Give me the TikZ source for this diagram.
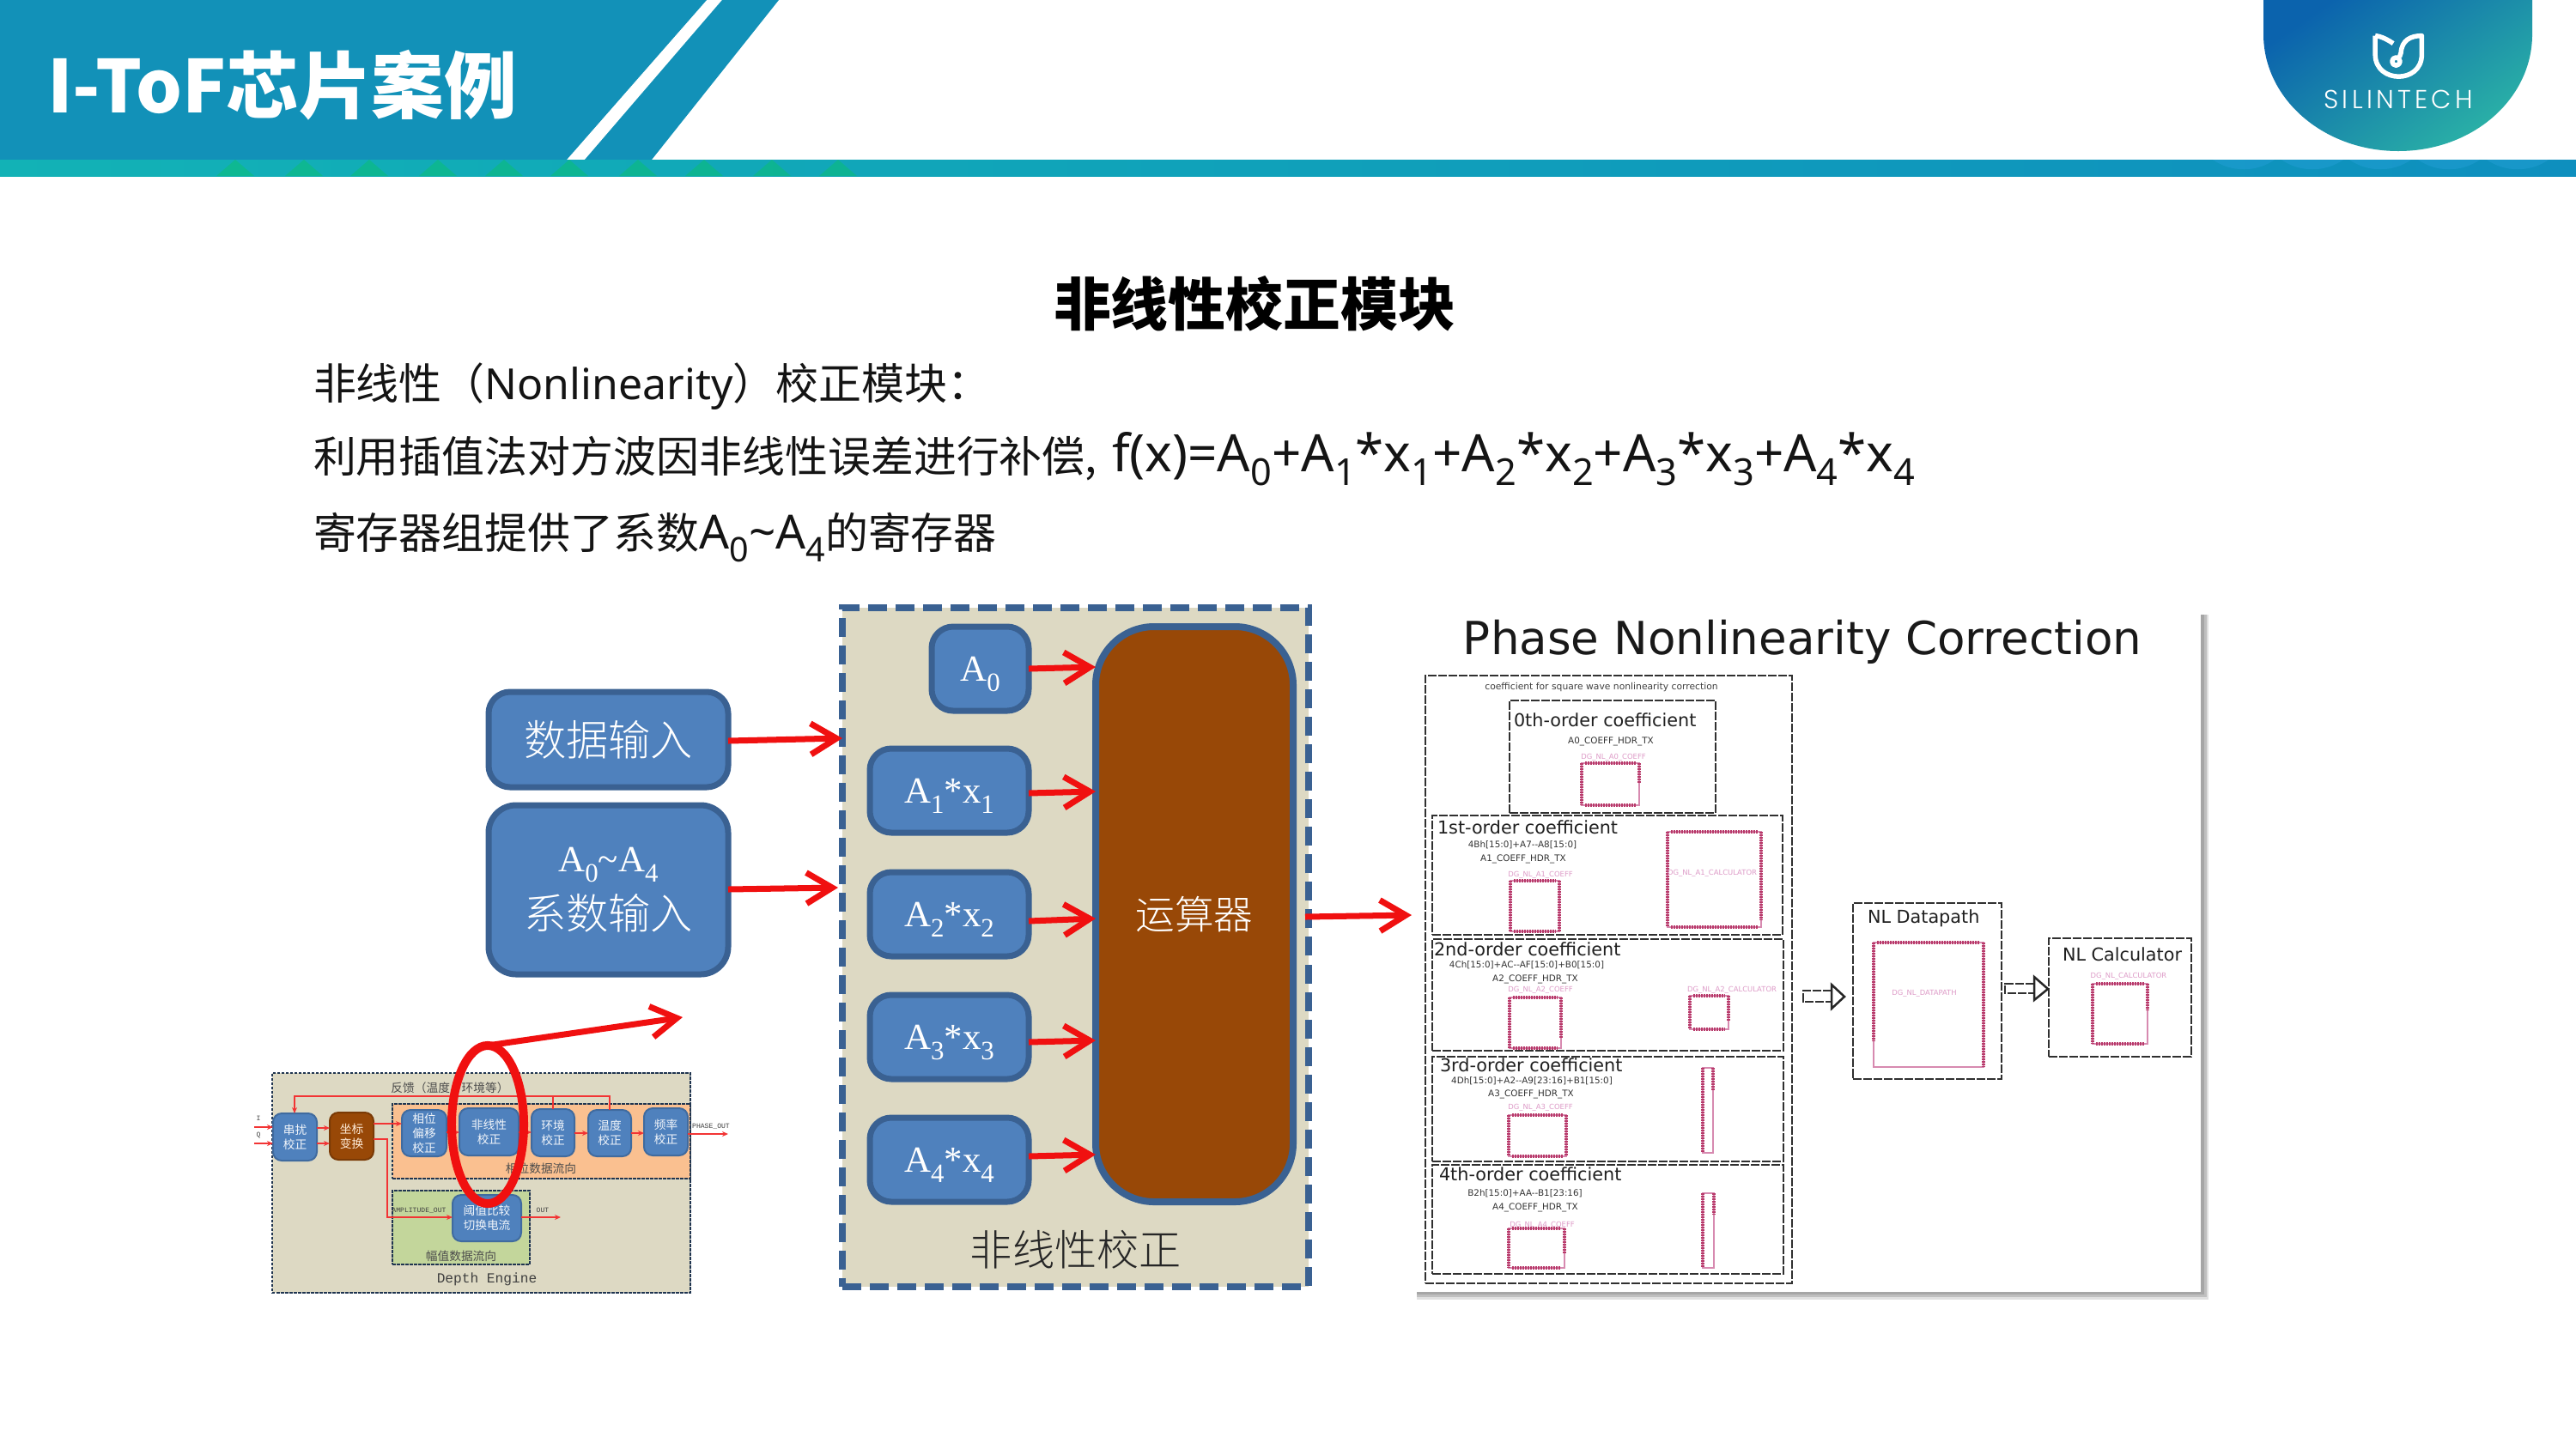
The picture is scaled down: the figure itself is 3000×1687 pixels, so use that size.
\documentclass[tikz,border=0pt]{standalone}
\usepackage{fontspec}
\usetikzlibrary{arrows.meta,shapes.geometric}
\setmainfont{Liberation Serif}
\newfontfamily\cjk{Noto Sans CJK SC}
\newfontfamily\cjklt[UprightFont=* Light]{Noto Sans CJK SC}
\newfontfamily\cjkblk[UprightFont=* Black]{Noto Sans CJK SC}
\newfontfamily\nts{Noto Sans}
\newfontfamily\dvs{DejaVu Sans}
\newfontfamily\lmono{Liberation Mono}
\newfontfamily\logof[UprightFont=* Light,LetterSpace=14]{Poppins}
\newcommand\fs[1]{\fontsize{#1}{#1}\selectfont}
\newcommand\ssb[1]{\raisebox{-.28em}[0pt][0pt]{\scalebox{.72}{#1}}}
\definecolor{hdrblue}{HTML}{1291B8}
\definecolor{bandl}{HTML}{12B2B6}
\definecolor{bandr}{HTML}{0E8FBE}
\definecolor{logoa}{HTML}{0B63AD}
\definecolor{logob}{HTML}{0E9CB8}
\definecolor{logoc}{HTML}{2BB3A6}
\definecolor{boxblue}{HTML}{4F81BD}
\definecolor{boxline}{HTML}{3A6192}
\definecolor{panelbg}{HTML}{DDD9C3}
\definecolor{brownfill}{HTML}{984807}
\definecolor{orfill}{HTML}{FAC090}
\definecolor{grfill}{HTML}{C3D69B}
\definecolor{arrred}{HTML}{F01010}
\definecolor{pinred}{HTML}{B83A6A}
\definecolor{chipl}{HTML}{D78AB0}
\definecolor{lblpink}{HTML}{DE9CC8}
\definecolor{dashk}{HTML}{303030}
\tikzset{
  x=0.01cm,y=-0.01cm,
  every node/.style={inner sep=0pt,outer sep=0pt},
  bigblue/.style={draw=boxline,fill=boxblue,line width=.07cm,rounded corners=.25cm,text=white},
  opbox/.style={draw=boxline,fill=brownfill,line width=.08cm,rounded corners=.68cm,text=white},
  mainpanel/.style={draw=boxline,fill=panelbg,line width=.08cm,dash pattern=on .22cm off .10cm},
  bigarrow/.style={draw=arrred,line width=.07cm,-{Straight Barb[length=.30cm,width=.36cm,line width=.07cm]}},
  thinarrow/.style={draw=arrred!85!white,line width=.018cm,-{Stealth[length=.07cm,width=.06cm]}},
  thinline/.style={draw=arrred!85!white,line width=.018cm},
  smallblue/.style={draw=boxline!70!boxblue,fill=boxblue,line width=.02cm,rounded corners=.1cm,text=white!92!boxblue,align=center,font=\cjk\fontsize{3.9}{4.8}\selectfont},
  smallbrown/.style={draw=brownfill!80!black,fill=brownfill,line width=.02cm,rounded corners=.1cm,text=white!85!orange,align=center,font=\cjk\fontsize{3.9}{4.8}\selectfont},
  thumbdash/.style={draw=black!45!boxline,line width=.016cm,dash pattern=on .035cm off .015cm},
  dbox/.style={draw=dashk,line width=.028cm,dash pattern=on .10cm off .02cm},
  chipline/.style={draw=chipl,line width=.012cm},
  pins/.style={draw=pinred,line width=.045cm,dash pattern=on .022cm off .008cm},
  cfont/.style={font=\dvs\fs{5.9},text=black!88},
  hdrlab/.style={font=\dvs\fs{2.95},text=black!80},
  pink/.style={font=\dvs\fs{2.4},text=lblpink},
  btext/.style={anchor=base west,font=\cjk\fs{14.2},text=black!92},
  thumbtext/.style={font=\cjk\fs{3.9},text=black!70},
  openhead/.style={draw=black!85,line width=.025cm,fill=white,line join=miter},
}
\newcommand\nbox[7]{%
  \pgfmathsetmacro\nbW{(#4-#2)*0.01}%
  \pgfmathsetmacro\nbH{(#5-#3)*0.01}%
  \node[#1,minimum width=\nbW cm,minimum height=\nbH cm] (#6) at ({(#2+#4)/2},{(#3+#5)/2}) {#7};}
\newcommand\pinchip[5]{%
  \draw[chipline] (#1,#2) rectangle (#3,#4);
  \draw[pins] (#1,#2) -- (#1,#4);
  \draw[pins] (#1+4,#2) -- (#3-4,#2);
  \draw[pins] (#1+4,#4) -- (#3-4,#4);
  \draw[pins] (#3,#2) -- (#3,#5);}
\newcommand\tallchip[5]{%
  \draw[chipline] (#1,#2) rectangle (#3,#4);
  \draw[pins] (#1,#2) -- (#1,#4);
  \draw[pins] (#3,#2) -- (#3,#5);}
\begin{document}
\begin{tikzpicture}
\useasboundingbox (0,0) rectangle (3000,1687);
\fill[white] (0,0) rectangle (3000,1687);
% header
\fill[hdrblue] (0,0) -- (823,0) -- (660,186) -- (0,186) -- cycle;
\fill[hdrblue] (841,0) -- (907,0) -- (759,186) -- (681,186) -- cycle;
\shade[left color=bandl,right color=bandr] (0,186) rectangle (3000,205);
\foreach \tx in {274,354,430,510,587,663,743,820,899,976}
  \fill[green!45!hdrblue,opacity=.45] (\tx-22,205) -- (\tx,186) -- (\tx+22,205) -- cycle;
\foreach \tx in {2613,2693,2772,2852,2932}
  \fill[cyan!60!hdrblue,opacity=.5] (\tx-36,186) .. controls (\tx-15,201) and (\tx+15,201) .. (\tx+36,186) -- cycle;
\node[anchor=base west,font=\cjkblk\fs{24.1},text=white] (title) at (55,131) {I-ToF芯片案例};
% logo
\shade[top color=logoa,middle color=logob,bottom color=logoc,shading angle=35]
  (2636,0) -- (2636,40) .. controls (2636,115) and (2706,176) .. (2793,176) .. controls (2880,176) and (2949,115) .. (2949,40) -- (2949,0) -- cycle;
\begin{scope}[xshift=25.5cm,x=0.003333cm,y=-0.003333cm,draw=white,line width=.055cm,line join=round]
  \draw (645,125) -- (645,190) .. controls (645,245) and (690,268) .. (727,268) .. controls (765,268) and (808,245) .. (808,190) -- (808,125) .. controls (770,125) and (738,140) .. (735,185) -- (730,200);
  \draw (645,125) .. controls (670,128) and (690,140) .. (708,152);
  \draw (718,215) circle[radius=14];
\end{scope}
\node[font=\logof\fs{8.6},text=white] (logotext) at (2793,116) {SILINTECH};
% heading and body
\node[font=\cjk\bfseries\fs{19},text=black] (heading) at (1461,354) {非线性校正模块};
\node[btext] (line1) at (365,465) {非线性（{\nts Nonlinearity}）校正模块：};
\node[btext] (line2) at (365,550) {利用插值法对方波因非线性误差进行补偿,};
\node[anchor=base west,font=\nts\fs{17.1},text=black!92] (formula) at (1295,549) {f(x)=A\ssb{0}+A\ssb{1}*x\ssb{1}+A\ssb{2}*x\ssb{2}+A\ssb{3}*x\ssb{3}+A\ssb{4}*x\ssb{4}};
\node[btext] (line3) at (365,639) {寄存器组提供了系数{\nts\fs{15.6}A\ssb{0}\textasciitilde A\ssb{4}}的寄存器};
% input boxes
\nbox{bigblue}{569}{806}{848}{917}{datain}{\cjklt\fs{14}数据输入}
\nbox{bigblue,rounded corners=.32cm,align=center}{569}{938}{848}{1135}{coefin}{\fs{12.2}A\ssb{0}\textasciitilde A\ssb{4}\\[7pt]\cjklt\fs{14}系数输入}
% main panel
\nbox{mainpanel}{981}{708}{1524}{1499}{panel}{}
\node[font=\cjklt\fs{14},text=black!85] (paneltxt) at (1253,1456) {非线性校正};
\nbox{bigblue}{1085}{730}{1198}{828}{a0}{\fs{12.2}A\ssb{0}}
\nbox{bigblue}{1013}{872}{1198}{970}{a1}{\fs{12.2}A\ssb{1}*x\ssb{1}}
\nbox{bigblue}{1013}{1016}{1198}{1114}{a2}{\fs{12.2}A\ssb{2}*x\ssb{2}}
\nbox{bigblue}{1013}{1159}{1198}{1257}{a3}{\fs{12.2}A\ssb{3}*x\ssb{3}}
\nbox{bigblue}{1013}{1302}{1198}{1400}{a4}{\fs{12.2}A\ssb{4}*x\ssb{4}}
\nbox{opbox}{1276}{730}{1506}{1400}{op}{\cjklt\fs{13}运算器}
\coordinate (dtip) at (981,860);
\coordinate (ctip) at (976,1034);
\coordinate (optip) at (1644,1066);
\draw[bigarrow] (datain.east |- 0,863) -- (dtip);
\draw[bigarrow] (coefin.east |- 0,1036) -- (ctip);
\draw[bigarrow] (a0.east |- 0,779) -- (op.west |- 0,777);
\draw[bigarrow] (a1.east |- 0,924) -- (op.west |- 0,922);
\draw[bigarrow] (a2.east |- 0,1073) -- (op.west |- 0,1070);
\draw[bigarrow] (a3.east |- 0,1214) -- (op.west |- 0,1212);
\draw[bigarrow] (a4.east |- 0,1347) -- (op.west |- 0,1345);
\coordinate (opout) at (1520,1068);
\draw[bigarrow] (opout) -- (optip);
% thumbnail
\nbox{thumbdash,fill=panelbg}{317}{1250}{804}{1506}{thumb}{}
\nbox{thumbdash,fill=orfill}{457}{1286}{804}{1373}{phasereg}{}
\nbox{thumbdash,fill=grfill}{457}{1387}{617}{1473}{ampreg}{}
\node[thumbtext] (fbk) at (524,1267) {反馈（温度、环境等）};
\node[thumbtext] (phflow) at (630,1361) {相位数据流向};
\node[thumbtext] (ampflow) at (537,1463) {幅值数据流向};
\node[font=\lmono\fs{4.6},text=black!75] (depth) at (567,1490) {Depth Engine};
\nbox{smallblue}{318}{1297}{369}{1352}{cross}{串扰\\校正}
\nbox{smallbrown}{384}{1296}{435}{1351}{coord}{坐标\\变换}
\nbox{smallblue}{468}{1293}{520}{1347}{phoff}{相位\\偏移\\校正}
\nbox{smallblue}{535}{1291}{604}{1346}{nonlin}{非线性\\校正}
\nbox{smallblue}{619}{1292}{669}{1347}{envc}{环境\\校正}
\nbox{smallblue}{685}{1293}{735}{1347}{tempc}{温度\\校正}
\nbox{smallblue}{750}{1291}{801}{1346}{freqc}{频率\\校正}
\nbox{smallblue}{527}{1392}{607}{1446}{thresh}{阈值比较\\切换电流}
\node[font=\lmono\fs{2.3},text=black!75] (iin) at (301,1303) {I};
\node[font=\lmono\fs{2.3},text=black!75] (qin) at (301,1323) {Q};
\coordinate (icoord) at (296,1313);
\coordinate (qcoord) at (296,1332);
\coordinate (phout) at (848,1321);
\coordinate (throut) at (653,1418);
\coordinate (fbcorner) at (343,1277);
\coordinate (ampcorner) at (451,1327);
\node[font=\lmono\fs{2.3},text=black!75] (phlabel) at (828,1312) {PHASE\_OUT};
\node[font=\lmono\fs{2.3},text=black!75] (amplabel) at (488,1410) {AMPLITUDE\_OUT};
\node[font=\lmono\fs{2.3},text=black!75] (outlabel) at (632,1410) {OUT};
\draw[thinarrow] (icoord) -- (cross.west |- icoord);
\draw[thinarrow] (qcoord) -- (cross.west |- qcoord);
\draw[thinarrow] (cross.east |- 0,1314) -- (coord.west |- 0,1314);
\draw[thinarrow] (cross.east |- 0,1332) -- (coord.west |- 0,1332);
\draw[thinarrow] (coord.east |- 0,1309) -- (phoff.west |- 0,1309);
\draw[thinarrow] (coord.east |- ampcorner) -- (ampcorner) -- (ampcorner |- throut) -- (thresh.west |- throut);
\draw[thinarrow] (phoff.east |- 0,1319) -- (nonlin.west |- 0,1319);
\draw[thinarrow] (nonlin.east |- 0,1319) -- (envc.west |- 0,1319);
\draw[thinarrow] (envc.east |- 0,1320) -- (tempc.west |- 0,1320);
\draw[thinarrow] (tempc.east |- 0,1320) -- (freqc.west |- 0,1320);
\draw[thinarrow] (freqc.east |- phout) -- (phout);
\draw[thinarrow] (thresh.east |- throut) -- (throut);
\draw[thinarrow] (tempc.north) -- (tempc.north |- fbcorner) -- (fbcorner) -- (cross.north -| fbcorner);
\draw[thinline] (envc.north) -- (envc.north |- fbcorner);
\node[draw=arrred,line width=.10cm,ellipse,minimum width=.84cm,minimum height=1.84cm] (ring) at (568,1310) {};
\coordinate (ringtip) at (795,1185);
\draw[bigarrow] (ring.north) -- (ringtip);
% right panel
\fill[black!12] (1650,1495) rectangle (2572,1514);
\fill[black!25] (1650,1495) rectangle (2570,1511);
\fill[black!35] (1650,1495) rectangle (2567,1508);
\fill[black!12] (2555,716) rectangle (2572,1514);
\fill[black!25] (2555,716) rectangle (2570,1511);
\fill[black!35] (2555,716) rectangle (2567,1508);
\nbox{fill=white}{1645}{713}{2563}{1505}{picture}{}
\node[anchor=base,font=\dvs\fs{15.1},text=black!90] (ptitle) at (2099,762) {Phase Nonlinearity Correction};
\nbox{dbox}{1660}{787}{2087}{1495}{outerbox}{}
\node[font=\dvs\fs{3.06},text=black!75] (cf) at (1865,801) {coefficient for square wave nonlinearity correction};
% 0th
\nbox{dbox}{1758}{816}{1998}{947}{box0}{}
\node[cfont,anchor=west] (t0) at (1763,839) {0th-order coefficient};
\node[hdrlab] (h0) at (1876,864) {A0\_COEFF\_HDR\_TX};
\node[pink] (p0) at (1879,882) {DG\_NL\_A0\_COEFF};
\pinchip{1842}{889}{1909}{938}{913}
% 1st
\nbox{dbox}{1668}{950}{2076}{1089}{box1}{}
\node[cfont,anchor=west] (t1) at (1674,964) {1st-order coefficient};
\node[hdrlab] (r1) at (1773,984) {4Bh[15:0]+A7--A8[15:0]};
\node[hdrlab] (h1) at (1774,1001) {A1\_COEFF\_HDR\_TX};
\node[pink] (p1) at (1794,1019) {DG\_NL\_A1\_COEFF};
\pinchip{1759}{1026}{1816}{1085}{1085}
\pinchip{1942}{969}{2051}{1080}{1072}
\node[pink] (p1c) at (1994,1017) {DG\_NL\_A1\_CALCULATOR};
% 2nd
\nbox{dbox}{1668}{1094}{2077}{1224}{box2}{}
\node[cfont,anchor=west] (t2) at (1670,1106) {2nd-order coefficient};
\node[hdrlab] (r2) at (1778,1124) {4Ch[15:0]+AC--AF[15:0]+B0[15:0]};
\node[hdrlab] (h2) at (1788,1141) {A2\_COEFF\_HDR\_TX};
\node[pink] (p2) at (1794,1153) {DG\_NL\_A2\_COEFF};
\pinchip{1758}{1162}{1818}{1221}{1210}
\node[pink] (p2c) at (2017,1153) {DG\_NL\_A2\_CALCULATOR};
\pinchip{1968}{1160}{2013}{1199}{1190}
% 3rd
\nbox{dbox}{1668}{1231}{2077}{1353}{box3}{}
\node[cfont,anchor=west] (t3) at (1677,1241) {3rd-order coefficient};
\node[hdrlab] (r3) at (1784,1259) {4Dh[15:0]+A2--A9[23:16]+B1[15:0]};
\node[hdrlab] (h3) at (1783,1275) {A3\_COEFF\_HDR\_TX};
\node[pink] (p3) at (1794,1290) {DG\_NL\_A3\_COEFF};
\pinchip{1757}{1299}{1824}{1347}{1347}
\tallchip{1983}{1244}{1995}{1343}{1270}
% 4th
\nbox{dbox}{1668}{1357}{2077}{1484}{box4}{}
\node[cfont,anchor=west] (t4) at (1676,1368) {4th-order coefficient};
\node[hdrlab] (r4) at (1776,1390) {B2h[15:0]+AA--B1[23:16]};
\node[hdrlab] (h4) at (1788,1407) {A4\_COEFF\_HDR\_TX};
\node[pink] (p4) at (1796,1427) {DG\_NL\_A4\_COEFF};
\pinchip{1757}{1431}{1822}{1477}{1460}
\tallchip{1983}{1390}{1996}{1477}{1415}
% datapath
\nbox{dbox}{2158}{1052}{2331}{1257}{boxdp}{}
\node[cfont,anchor=west] (tdp) at (2175,1070) {NL Datapath};
\draw[chipline] (2182,1098) rectangle (2310,1243);
\draw[pins] (2182,1098) -- (2182,1213);
\draw[pins] (2186,1098) -- (2306,1098);
\draw[pins] (2310,1098) -- (2310,1243);
\node[pink] (pdp) at (2241,1157) {DG\_NL\_DATAPATH};
% calculator
\nbox{dbox}{2386}{1093}{2552}{1231}{boxcalc}{}
\node[cfont,anchor=west] (tcalc) at (2402,1112) {NL Calculator};
\node[pink] (pcalc) at (2479,1137) {DG\_NL\_CALCULATOR};
\pinchip{2437}{1146}{2501}{1216}{1177}
% open arrows
\draw[dbox] (2133,1154) -- (2100,1154) -- (2100,1167) -- (2133,1167);
\draw[openhead] (2133,1147) -- (2148,1161) -- (2133,1175) -- cycle;
\draw[dbox] (2369,1146) -- (2335,1146) -- (2335,1157) -- (2369,1157);
\draw[openhead] (2369,1138) -- (2385,1152) -- (2369,1165) -- cycle;
\end{tikzpicture}
\end{document}
